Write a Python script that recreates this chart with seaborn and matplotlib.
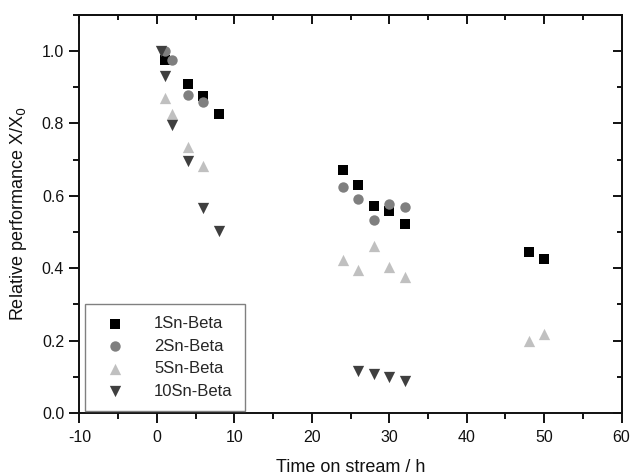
import numpy as np
import pandas as pd
import matplotlib
matplotlib.use("Agg")
import matplotlib.pyplot as plt
import seaborn as sns
from matplotlib.ticker import MultipleLocator, FormatStrFormatter

# Time on stream (h) and relative performance X/X0 for each catalyst
t_1sn = [1, 4, 6, 8, 24, 26, 28, 30, 32, 48, 50]
y_1sn = [0.975, 0.910, 0.875, 0.825, 0.670, 0.630, 0.572, 0.557, 0.522, 0.445, 0.425]

t_2sn = [1, 2, 4, 6, 24, 26, 28, 30, 32]
y_2sn = [1.000, 0.975, 0.877, 0.860, 0.625, 0.590, 0.533, 0.578, 0.568]

t_5sn = [1, 2, 4, 6, 24, 26, 28, 30, 32, 48, 50]
y_5sn = [0.870, 0.825, 0.735, 0.682, 0.423, 0.395, 0.460, 0.402, 0.377, 0.200, 0.217]

t_10sn = [0.5, 1, 2, 4, 6, 8, 26, 28, 30, 32]
y_10sn = [1.000, 0.932, 0.795, 0.695, 0.565, 0.502, 0.115, 0.107, 0.100, 0.089]

labels = ["1Sn-Beta", "2Sn-Beta", "5Sn-Beta", "10Sn-Beta"]
colors = ["#000000", "#7f7f7f", "#c0c0c0", "#3f3f3f"]
markers = ["s", "o", "^", "v"]
sizes = [44, 56, 66, 66]

frames = []
for lab, t, y in zip(labels, [t_1sn, t_2sn, t_5sn, t_10sn],
                     [y_1sn, y_2sn, y_5sn, y_10sn]):
    frames.append(pd.DataFrame({"time": t, "rel": y, "catalyst": lab}))
data = pd.concat(frames, ignore_index=True)

sns.set_theme(style="ticks")
plt.rcParams["font.family"] = ["Liberation Sans", "DejaVu Sans"]
plt.rcParams["axes.unicode_minus"] = False
plt.rcParams["axes.linewidth"] = 1.4
for k in ["xtick.major.width", "ytick.major.width",
          "xtick.minor.width", "ytick.minor.width"]:
    plt.rcParams[k] = 1.4

fig = plt.figure(figsize=(6.33, 4.75), dpi=100)
ax = fig.add_axes([0.1255, 0.1305, 0.8565, 0.8385])

for lab, col, mk, sz in zip(labels, colors, markers, sizes):
    sub = data[data["catalyst"] == lab]
    sns.scatterplot(data=sub, x="time", y="rel", color=col, marker=mk,
                    s=sz, linewidth=0, label=lab, ax=ax)

ax.set_xlim(-10, 60)
ax.set_ylim(0, 1.1)
ax.xaxis.set_major_locator(MultipleLocator(10))
ax.xaxis.set_minor_locator(MultipleLocator(5))
ax.yaxis.set_major_locator(MultipleLocator(0.2))
ax.yaxis.set_minor_locator(MultipleLocator(0.1))
ax.yaxis.set_major_formatter(FormatStrFormatter("%.1f"))

ax.tick_params(which="major", direction="out", length=7, labelsize=11.5,
               colors="#111111", pad=4)
ax.tick_params(axis="x", which="major", pad=5)
ax.tick_params(which="minor", direction="out", length=4, colors="#111111")
for s in ax.spines.values():
    s.set_color("#111111")
    s.set_visible(True)

# Inward ticks on the top and right edges of the frame
top = ax.secondary_xaxis("top")
top.xaxis.set_major_locator(MultipleLocator(10))
top.xaxis.set_minor_locator(MultipleLocator(5))
top.tick_params(which="major", direction="in", length=6.5, labeltop=False,
                colors="#111111")
top.tick_params(which="minor", direction="in", length=3.5, colors="#111111")
right = ax.secondary_yaxis("right")
right.yaxis.set_major_locator(MultipleLocator(0.2))
right.yaxis.set_minor_locator(MultipleLocator(0.1))
right.tick_params(which="major", direction="in", length=6.5, labelright=False,
                  colors="#111111")
right.tick_params(which="minor", direction="in", length=3.5, colors="#111111")

ax.set_xlabel("Time on stream / h", fontsize=13, color="#111111", labelpad=10)
ax.set_ylabel("Relative performance X/X$_0$", fontsize=13, color="#111111",
              labelpad=9)

leg = ax.legend(loc="lower left", bbox_to_anchor=(0.010, 0.005),
                borderaxespad=0, fontsize=12, frameon=True, fancybox=False,
                edgecolor="#808080", framealpha=1, handletextpad=1.3,
                borderpad=0.75, labelspacing=0.45, handlelength=2.1,
                markerscale=1.0)
leg.get_frame().set_linewidth(1.0)

fig.savefig("out.png", dpi=100)
